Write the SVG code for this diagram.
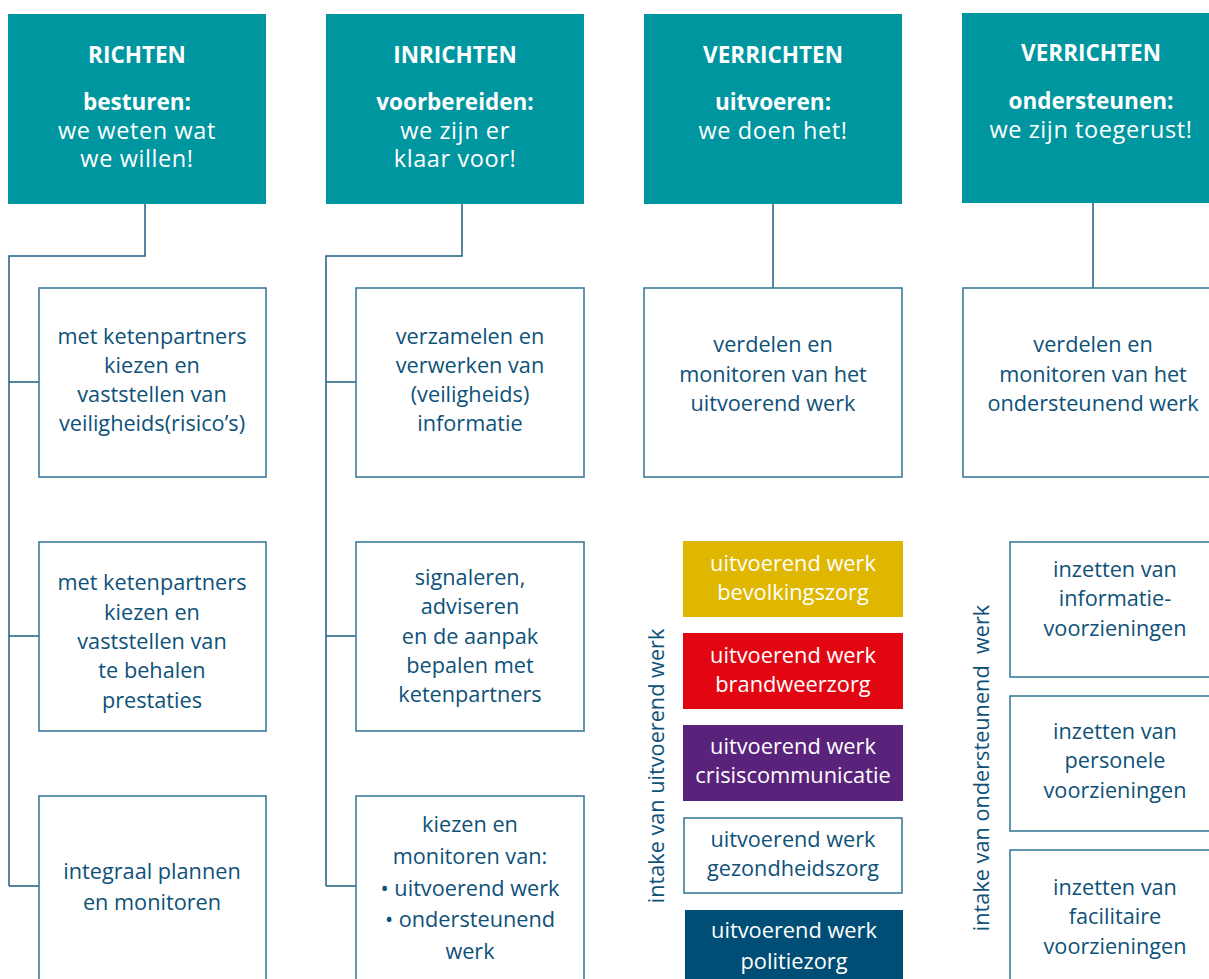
<svg xmlns="http://www.w3.org/2000/svg" width="1209" height="979" viewBox="0 0 1209 979">
  <style>
    text { font-family: "Open Sans", "Noto Sans", sans-serif; text-anchor: middle; }
    .head { fill: #0096a0; }
    .ht { fill: #ffffff; font-size: 23.5px; letter-spacing: 0.6px; }
    .hb { font-weight: 700; font-size: 22.5px; letter-spacing: 0; }
    .box { fill: #ffffff; stroke: #3e7b9c; stroke-width: 1.6; }
    .bt { fill: #0e5179; font-size: 21.7px; }
    .wt { fill: #ffffff; font-size: 21.8px; }
    .link { fill: none; stroke: #1f5d82; stroke-width: 1.5; }
    .vt { fill: #0e5179; font-size: 21.7px; }
  </style>

  <!-- connectors -->
  <g id="connectors">
    <path class="link" d="M145 204 V256 H9 V886"/>
    <path class="link" d="M9 382 H39 M9 636 H39 M9 886 H39"/>
    <path class="link" d="M462 204 V256 H326 V886"/>
    <path class="link" d="M326 382 H356 M326 636 H356 M326 886 H356"/>
    <path class="link" d="M773 204 V288"/>
    <path class="link" d="M1093 203 V288"/>
    <path class="link" d="M1197 980 Q1203 974 1210 969"/>
  </g>

  <!-- header row -->
  <g id="h-richten">
    <rect class="head" x="8" y="14" width="258" height="190"/>
    <text class="ht hb" x="137" y="63">RICHTEN</text>
    <text class="ht hb" x="137" y="110">besturen:</text>
    <text class="ht" x="137" y="139">we weten wat</text>
    <text class="ht" x="137" y="167">we willen!</text>
  </g>
  <g id="h-inrichten">
    <rect class="head" x="326" y="14" width="258" height="190"/>
    <text class="ht hb" x="455" y="63">INRICHTEN</text>
    <text class="ht hb" x="455" y="110">voorbereiden:</text>
    <text class="ht" x="455" y="139">we zijn er</text>
    <text class="ht" x="455" y="167">klaar voor!</text>
  </g>
  <g id="h-verrichten-uitvoeren">
    <rect class="head" x="644" y="14" width="258" height="190"/>
    <text class="ht hb" x="773" y="63">VERRICHTEN</text>
    <text class="ht hb" x="773" y="110">uitvoeren:</text>
    <text class="ht" x="773" y="139">we doen het!</text>
  </g>
  <g id="h-verrichten-ondersteunen">
    <rect class="head" x="962" y="13" width="260" height="190"/>
    <text class="ht hb" x="1091" y="61">VERRICHTEN</text>
    <text class="ht hb" x="1091" y="109">ondersteunen:</text>
    <text class="ht" x="1091" y="138">we zijn toegerust!</text>
  </g>

  <!-- richten column -->
  <g id="r1">
    <rect class="box" x="39" y="288" width="227" height="189"/>
    <text class="bt" x="152" y="344">met ketenpartners</text>
    <text class="bt" x="152" y="373">kiezen en</text>
    <text class="bt" x="152" y="402">vaststellen van</text>
    <text class="bt" x="152" y="431">veiligheids(risico’s)</text>
  </g>
  <g id="r2">
    <rect class="box" x="39" y="542" width="227" height="189"/>
    <text class="bt" x="152" y="590">met ketenpartners</text>
    <text class="bt" x="152" y="620">kiezen en</text>
    <text class="bt" x="152" y="649">vaststellen van</text>
    <text class="bt" x="152" y="678">te behalen</text>
    <text class="bt" x="152" y="708">prestaties</text>
  </g>
  <g id="r3">
    <rect class="box" x="39" y="796" width="227" height="200"/>
    <text class="bt" x="152" y="879">integraal plannen</text>
    <text class="bt" x="152" y="910">en monitoren</text>
  </g>

  <!-- inrichten column -->
  <g id="i1">
    <rect class="box" x="356" y="288" width="228" height="189"/>
    <text class="bt" x="470" y="344">verzamelen en</text>
    <text class="bt" x="470" y="373">verwerken van</text>
    <text class="bt" x="470" y="402">(veiligheids)</text>
    <text class="bt" x="470" y="431">informatie</text>
  </g>
  <g id="i2">
    <rect class="box" x="356" y="542" width="228" height="189"/>
    <text class="bt" x="470" y="585">signaleren,</text>
    <text class="bt" x="470" y="614">adviseren</text>
    <text class="bt" x="470" y="644">en de aanpak</text>
    <text class="bt" x="470" y="673">bepalen met</text>
    <text class="bt" x="470" y="702">ketenpartners</text>
  </g>
  <g id="i3">
    <rect class="box" x="356" y="796" width="228" height="200"/>
    <text class="bt" x="470" y="832">kiezen en</text>
    <text class="bt" x="470" y="864">monitoren van:</text>
    <text class="bt" x="470" y="896">• uitvoerend werk</text>
    <text class="bt" x="470" y="927">• ondersteunend</text>
    <text class="bt" x="470" y="959">werk</text>
  </g>

  <!-- uitvoeren column -->
  <g id="u1">
    <rect class="box" x="644" y="288" width="258" height="189"/>
    <text class="bt" x="773" y="352">verdelen en</text>
    <text class="bt" x="773" y="382">monitoren van het</text>
    <text class="bt" x="773" y="411">uitvoerend werk</text>
  </g>
  <g id="u-intake">
    <text class="vt" transform="translate(664 766) rotate(-90)">intake van uitvoerend werk</text>
  </g>
  <g id="u-bevolkingszorg">
    <rect x="683" y="541" width="220" height="76" fill="#dfb700"/>
    <text class="wt" x="793" y="571">uitvoerend werk</text>
    <text class="wt" x="793" y="600">bevolkingszorg</text>
  </g>
  <g id="u-brandweerzorg">
    <rect x="683" y="633" width="220" height="76" fill="#e20613"/>
    <text class="wt" x="793" y="663">uitvoerend werk</text>
    <text class="wt" x="793" y="692">brandweerzorg</text>
  </g>
  <g id="u-crisiscommunicatie">
    <rect x="683" y="725" width="220" height="76" fill="#5a237b"/>
    <text class="wt" x="793" y="754">uitvoerend werk</text>
    <text class="wt" x="793" y="783">crisiscommunicatie</text>
  </g>
  <g id="u-gezondheidszorg">
    <rect class="box" x="684" y="818" width="218" height="75"/>
    <text class="bt" x="793" y="847">uitvoerend werk</text>
    <text class="bt" x="793" y="876">gezondheidszorg</text>
  </g>
  <g id="u-politiezorg">
    <rect x="685" y="910" width="218" height="80" fill="#004e75"/>
    <text class="wt" x="794" y="938">uitvoerend werk</text>
    <text class="wt" x="794" y="969">politiezorg</text>
  </g>

  <!-- ondersteunen column -->
  <g id="o1">
    <rect class="box" x="963" y="288" width="260" height="189"/>
    <text class="bt" x="1093" y="352">verdelen en</text>
    <text class="bt" x="1093" y="382">monitoren van het</text>
    <text class="bt" x="1093" y="411">ondersteunend werk</text>
  </g>
  <g id="o-intake">
    <text class="vt" transform="translate(989 768) rotate(-90)" xml:space="preserve">intake van ondersteunend  werk</text>
  </g>
  <g id="o-informatie">
    <rect class="box" x="1010" y="542" width="210" height="135"/>
    <text class="bt" x="1115" y="577">inzetten van</text>
    <text class="bt" x="1115" y="606">informatie-</text>
    <text class="bt" x="1115" y="636">voorzieningen</text>
  </g>
  <g id="o-personeel">
    <rect class="box" x="1010" y="696" width="210" height="135"/>
    <text class="bt" x="1115" y="739">inzetten van</text>
    <text class="bt" x="1115" y="768">personele</text>
    <text class="bt" x="1115" y="798">voorzieningen</text>
  </g>
  <g id="o-facilitair">
    <rect class="box" x="1010" y="850" width="210" height="140"/>
    <text class="bt" x="1115" y="895">inzetten van</text>
    <text class="bt" x="1115" y="924">facilitaire</text>
    <text class="bt" x="1115" y="954">voorzieningen</text>
  </g>
</svg>
